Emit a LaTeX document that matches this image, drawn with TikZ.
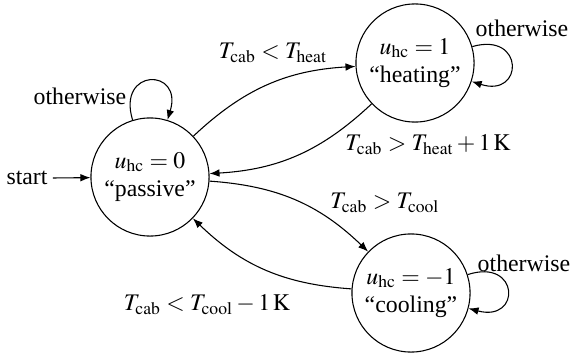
\documentclass[tikz,border=0pt]{standalone}
\usepackage{mathptmx}
\usepackage{fontspec}
\setmainfont{Liberation Serif}
\usetikzlibrary{arrows.meta}
\tikzset{
  state/.style={draw, circle, minimum size=49.6pt, inner sep=0pt, align=center, line width=0.45pt},
  trans/.style={-{Latex[length=4.2pt,width=3.2pt]}, line width=0.45pt},
  lbl/.style={inner sep=0pt}
}
\begin{document}
\begin{tikzpicture}[x=0.42pt, y=-0.42pt]
\useasboundingbox (0,0) rectangle (572,356);
\node[state] (p) at (150,177) {$u_{\mathrm{hc}} = 0$\\``passive''};
\node[state] (h) at (415,63) {$u_{\mathrm{hc}} = 1$\\``heating''};
\node[state] (c) at (411,293) {$u_{\mathrm{hc}} = -1$\\``cooling''};
\node[lbl, anchor=east] (start) at (48,178) {start};
\node[lbl] (lp) at (80,96) {otherwise};
\node[lbl] (lh) at (522,28) {otherwise};
\node[lbl] (lc) at (524,263) {otherwise};
\node[lbl] (l1) at (273,53) {$T_{\mathrm{cab}} < T_{\mathrm{heat}}$};
\node[lbl] (l2) at (428,145) {$T_{\mathrm{cab}} > T_{\mathrm{heat}} + 1\,\mathrm{K}$};
\node[lbl] (l3) at (385,203) {$T_{\mathrm{cab}} > T_{\mathrm{cool}}$};
\node[lbl] (l4) at (207,305) {$T_{\mathrm{cab}} < T_{\mathrm{cool}} - 1\,\mathrm{K}$};
\coordinate (s0) at ([xshift=2pt]start.east);
\draw[trans] (s0) -- (p);
\draw[trans] (p) to[bend left=20] (h);
\draw[trans] (h) to[bend left=20] (p);
\draw[trans] (p) to[bend left=20] (c);
\draw[trans] (c) to[bend left=20] (p);
\draw[trans] (p) to[out=107, in=73, distance=23pt] (p);
\draw[trans] (h) to[out=16, in=-18, distance=23pt] (h);
\draw[trans] (c) to[out=18, in=-15, distance=23pt] (c);
\end{tikzpicture}
\end{document}
